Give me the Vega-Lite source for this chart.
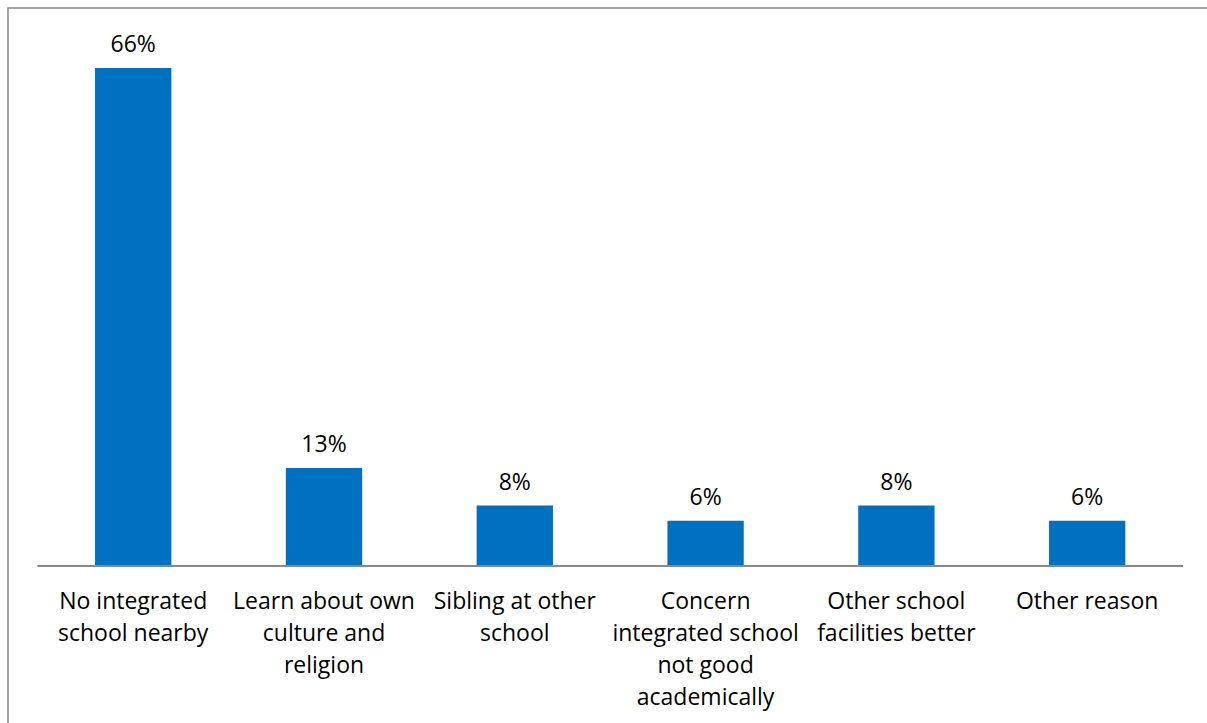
{
  "$schema": "https://vega.github.io/schema/vega-lite/v6.json",
  "width": 1203,
  "height": 719,
  "autosize": {"type": "none"},
  "padding": {"left": 8, "top": 8, "right": 0, "bottom": 0},
  "background": "white",
  "config": {"view": {"stroke": "#888888", "strokeWidth": 1.5}, "font": "Open Sans"},
  "data": {"values": [
    {"reason": "No integrated|school nearby", "pct": 0.66},
    {"reason": "Learn about own|culture and|religion", "pct": 0.13},
    {"reason": "Sibling at other|school", "pct": 0.08},
    {"reason": "Concern|integrated school|not good|academically", "pct": 0.06},
    {"reason": "Other school|facilities better", "pct": 0.08},
    {"reason": "Other reason", "pct": 0.06}
  ]},
  "encoding": {
    "x": {
      "field": "reason", "type": "nominal", "sort": null,
      "scale": {"paddingInner": 0.6, "paddingOuter": 0.4526, "align": 0.504},
      "axis": {
        "title": null, "orient": "bottom", "offset": -161, "domain": false, "ticks": false, "grid": false,
        "labelAngle": 0, "labelExpr": "split(datum.value, '|')", "labelFontSize": 23, "labelLineHeight": 32,
        "labelPadding": 24, "labelColor": "#000000", "labelFont": "Open Sans", "labelBaseline": "top",
        "labelLimit": 0, "labelOverlap": false, "labelBound": false
      }
    }
  },
  "layer": [
    {
      "mark": {"type": "bar", "color": "#0070C0"},
      "encoding": {
        "y": {"field": "pct", "type": "quantitative", "scale": {"domain": [-0.2134, 0.7395], "nice": false, "zero": false}, "axis": null},
        "y2": {"datum": 0}
      }
    },
    {
      "mark": {"type": "text", "dy": -16, "baseline": "alphabetic", "fontSize": 23, "color": "#000000", "font": "Open Sans"},
      "encoding": {
        "y": {"field": "pct", "type": "quantitative"},
        "text": {"field": "pct", "type": "quantitative", "format": ".0%"}
      }
    },
    {
      "mark": {"type": "rule", "color": "#888888", "strokeWidth": 1.5},
      "encoding": {
        "x": {"datum": "No integrated|school nearby", "bandPosition": -0.75},
        "x2": {"datum": "Other reason", "bandPosition": 1.75},
        "y": {"datum": 0}
      }
    }
  ]
}
